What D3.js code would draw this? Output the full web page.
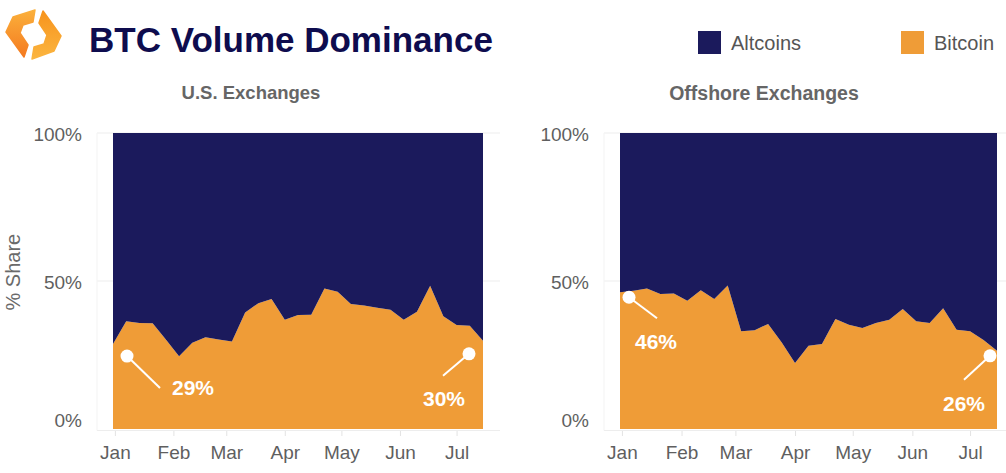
<!DOCTYPE html>
<html>
<head>
<meta charset="utf-8">
<script src="https://cdnjs.cloudflare.com/ajax/libs/d3/7.8.5/d3.min.js"></script>
<style>
  body { margin: 0; background: #fff; }
  svg { font-family: "Liberation Sans", Arial, sans-serif; display: block; }
  .tick line { stroke: #e3e3e3; }
  .tick text { fill: #5f5f5f; font-size: 19px; }
</style>
</head>
<body>
<div id="chart"></div>
<script>

// weekly observations
var weekDates = [
  "2020-12-31", "2021-01-07", "2021-01-14", "2021-01-21", "2021-01-28",
  "2021-02-04", "2021-02-11", "2021-02-18", "2021-02-25",
  "2021-03-04", "2021-03-11", "2021-03-18", "2021-03-25",
  "2021-04-01", "2021-04-08", "2021-04-15", "2021-04-22", "2021-04-29",
  "2021-05-06", "2021-05-13", "2021-05-20", "2021-05-27",
  "2021-06-03", "2021-06-10", "2021-06-17", "2021-06-24",
  "2021-07-01", "2021-07-08", "2021-07-15"
];

// bitcoin share of volume (%), altcoins are the rest
var usBitcoin = [28.7, 36.4, 35.8, 35.7, 30.2, 24.6, 29.1, 31.0, 30.2, 29.6,
  39.4, 42.5, 43.9, 36.9, 38.5, 38.6, 47.5, 46.4, 42.2, 41.7,
  41.0, 40.3, 36.9, 39.6, 48.4, 38.1, 35.1, 34.9, 29.8];

var offshoreBitcoin = [46.2, 46.7, 47.5, 45.6, 45.8, 43.3, 46.9, 43.9, 48.5, 33.0,
  33.4, 35.5, 29.3, 22.3, 28.1, 28.7, 37.2, 35.2, 34.1, 35.8,
  36.9, 40.5, 36.4, 35.8, 40.8, 33.5, 33.0, 30.1, 26.4];

var seriesNames = ["Altcoins", "Bitcoin"];
var seriesColors = ["#1b1a5c", "#ef9c37"];
var yTicks = [0, 50, 100];

var svgWidth = 1006;
var svgHeight = 473;

var parseDate = d3.timeParse("%Y-%m-%d");
var dates = weekDates.map(parseDate);

var svg = d3.select("#chart")
  .append("svg")
  .attr("width", svgWidth)
  .attr("height", svgHeight);

// logo: two orange chevrons forming a broken hexagon
var defs = svg.append("defs");
var grad = defs.append("linearGradient")
  .attr("id", "logoGrad")
  .attr("x1", "0").attr("y1", "0").attr("x2", "0").attr("y2", "1");
grad.append("stop").attr("offset", "0%").attr("stop-color", "#fbb03b");
grad.append("stop").attr("offset", "100%").attr("stop-color", "#f47a20");
var grad2 = defs.append("linearGradient")
  .attr("id", "logoGrad2")
  .attr("x1", "0").attr("y1", "0").attr("x2", "0").attr("y2", "1");
grad2.append("stop").attr("offset", "0%").attr("stop-color", "#f7941d");
grad2.append("stop").attr("offset", "100%").attr("stop-color", "#fbb540");

var logo = svg.append("g");
logo.append("polygon")
  .attr("points", "35,10 13,17 6,32 24,57 28,45 20,33 23,25 33,22")
  .attr("fill", "url(#logoGrad)")
  .attr("stroke", "url(#logoGrad)")
  .attr("stroke-linejoin", "round")
  .attr("stroke-width", 1.5);
logo.append("polygon")
  .attr("points", "32,59 54,51 61,36 43,11 39,23 47,35 44,44 34,47")
  .attr("fill", "url(#logoGrad2)")
  .attr("stroke", "url(#logoGrad2)")
  .attr("stroke-linejoin", "round")
  .attr("stroke-width", 1.5);

// title
svg.append("text")
  .attr("x", 89)
  .attr("y", 52)
  .attr("font-size", "35px")
  .attr("font-weight", "bold")
  .attr("fill", "#0e0c4e")
  .text("BTC Volume Dominance");

// legend
var legendX = [698, 901];
var legend = svg.selectAll(".legendItem")
  .data(seriesNames)
  .enter()
  .append("g")
  .attr("class", "legendItem")
  .attr("transform", (d, i) => `translate(${legendX[i]}, 31)`);

legend.append("rect")
  .attr("width", 23)
  .attr("height", 23)
  .attr("fill", (d, i) => seriesColors[i]);

legend.append("text")
  .attr("x", 33)
  .attr("y", 12)
  .attr("dy", "0.35em")
  .attr("font-size", "20px")
  .attr("fill", "#555")
  .text(d => d);

// one panel per exchange group
function drawPanel(opts) {
  var values = opts.values;

  var xScale = d3.scaleTime()
    .domain(d3.extent(dates))
    .range([opts.left, opts.right]);

  var yScale = d3.scaleLinear()
    .domain([0, 100])
    .range([429, 133]);

  var panel = svg.append("g");

  // subtitle
  panel.append("text")
    .attr("x", opts.titleX)
    .attr("y", 93)
    .attr("dy", "0.35em")
    .attr("text-anchor", "middle")
    .attr("font-size", opts.titleSize)
    .attr("font-weight", "bold")
    .attr("fill", "#666")
    .text(opts.title);

  // gridlines
  panel.selectAll(".grid")
    .data(yTicks)
    .enter()
    .append("line")
    .attr("x1", opts.left - 16)
    .attr("x2", opts.right + 17)
    .attr("y1", d => yScale(d) + (d === 0 ? 1.5 : 0))
    .attr("y2", d => yScale(d) + (d === 0 ? 1.5 : 0))
    .attr("stroke", "#ededed")
    .attr("stroke-width", 1.2);

  panel.append("line")
    .attr("x1", opts.left - 16)
    .attr("x2", opts.left - 16)
    .attr("y1", yScale(100))
    .attr("y2", yScale(0) + 1.5)
    .attr("stroke", "#f3f3f3");

  // stacked shares
  var rows = dates.map((d, i) => ({ date: d, Bitcoin: values[i], Altcoins: 100 - values[i] }));
  var stacked = d3.stack().keys(["Bitcoin", "Altcoins"])(rows);

  var area = d3.area()
    .x(d => xScale(d.data.date))
    .y0(d => yScale(d[0]))
    .y1(d => yScale(d[1]));

  panel.selectAll(".layer")
    .data(stacked)
    .enter()
    .append("path")
    .attr("class", "layer")
    .attr("d", area)
    .attr("fill", d => seriesColors[seriesNames.indexOf(d.key)]);

  // x axis
  var bottomAxis = d3.axisBottom(xScale)
    .ticks(d3.timeMonth.every(1))
    .tickFormat(d3.timeFormat("%b"))
    .tickSize(5)
    .tickPadding(10);

  var xAxis = panel.append("g")
    .attr("transform", `translate(0, 431)`)
    .call(bottomAxis);
  xAxis.select(".domain").remove();
  xAxis.selectAll(".tick text").attr("dy", "0.71em");

  // y axis
  var leftAxis = d3.axisLeft(yScale)
    .tickValues(yTicks)
    .tickFormat(d => d + "%")
    .tickSize(0)
    .tickPadding(0);

  var yAxis = panel.append("g")
    .attr("transform", `translate(${opts.left - 31}, 0)`)
    .call(leftAxis);
  yAxis.select(".domain").remove();
  yAxis.selectAll(".tick text")
    .attr("y", d => (d === 0 ? -9 : 1));

  if (opts.yTitle) {
    panel.append("text")
      .attr("transform", `translate(13, ${yScale(53)}) rotate(-90)`)
      .attr("text-anchor", "middle")
      .attr("dy", "0.35em")
      .attr("font-size", "20px")
      .attr("fill", "#6a6a6a")
      .text(opts.yTitle);
  }

  // callouts for the first and last weeks
  opts.callouts.forEach(function(c) {
    var ax = xScale(dates[c.index]);
    var ay = yScale(values[c.index]);
    var g = panel.append("g").attr("transform", `translate(${ax}, ${ay})`);
    g.append("line")
      .attr("x1", c.dot[0]).attr("y1", c.dot[1])
      .attr("x2", c.end[0]).attr("y2", c.end[1])
      .attr("stroke", "#fff")
      .attr("stroke-width", 2);
    g.append("circle")
      .attr("cx", c.dot[0])
      .attr("cy", c.dot[1])
      .attr("r", 6.5)
      .attr("fill", "#fff");
    g.append("text")
      .attr("x", c.label[0])
      .attr("y", c.label[1])
      .attr("dy", "0.35em")
      .attr("text-anchor", "middle")
      .attr("font-size", "21px")
      .attr("font-weight", "bold")
      .attr("fill", "#fff")
      .text(Math.round(values[c.index]) + "%");
  });
}

drawPanel({
  values: usBitcoin,
  left: 113,
  right: 483,
  title: "U.S. Exchanges",
  titleX: 251,
  titleSize: "18.5px",
  yTitle: "% Share",
  callouts: [
    { index: 0, dot: [14, 12], end: [47, 44], label: [80, 44] },
    { index: dates.length - 1, dot: [-14, 13], end: [-40, 35], label: [-39, 58] }
  ]
});

drawPanel({
  values: offshoreBitcoin,
  left: 620,
  right: 997,
  title: "Offshore Exchanges",
  titleX: 764,
  titleSize: "19.5px",
  yTitle: null,
  callouts: [
    { index: 0, dot: [9, 5], end: [37, 26], label: [36, 49] },
    { index: dates.length - 1, dot: [-7, 5], end: [-33, 29], label: [-33, 53] }
  ]
});

</script>
</body>
</html>
